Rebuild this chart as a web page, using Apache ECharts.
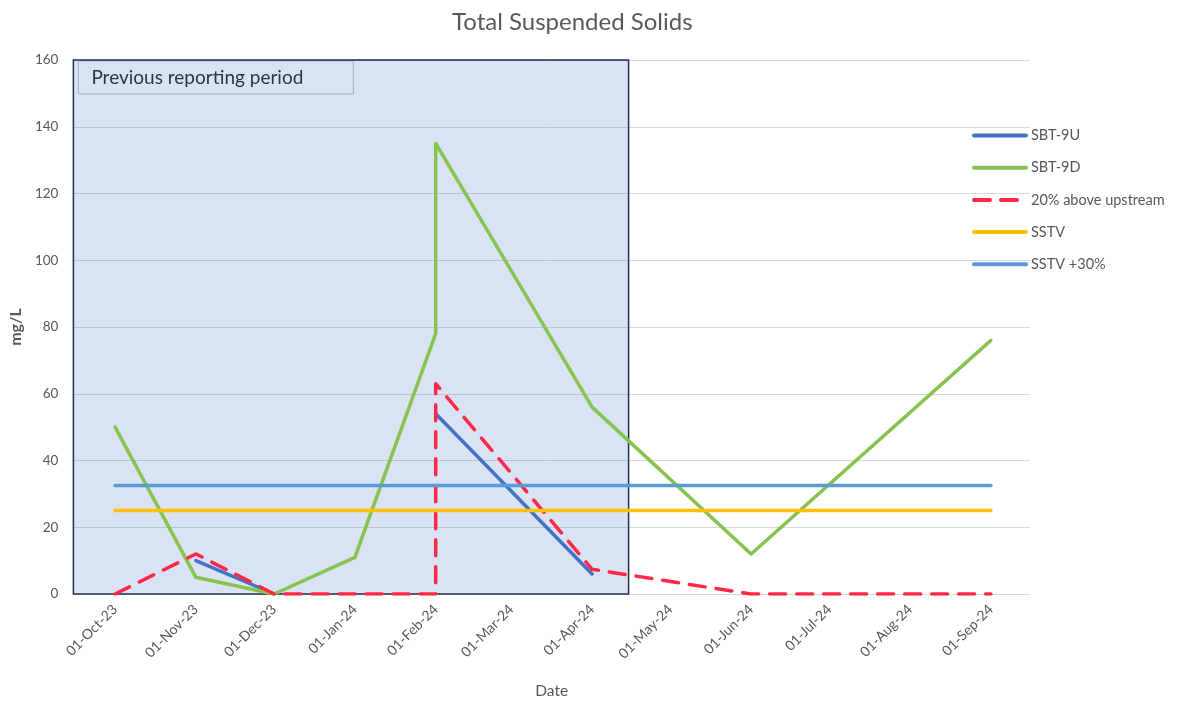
<!DOCTYPE html>
<html>
<head>
<meta charset="utf-8">
<script src="https://cdn.jsdelivr.net/npm/echarts@6/dist/echarts.min.js"></script>
<style>
  html, body { margin: 0; padding: 0; background: #fff; overflow: hidden; }
  #chart { width: 1181px; height: 704px; }
</style>
</head>
<body>
<div id="chart"></div>
<script>
// Sampling dates (monthly; two readings on 1 Feb 2024)
const sampleDates = ['2023-10-01', '2023-11-01', '2023-12-01', '2024-01-01', '2024-02-01',
                     '2024-02-01', '2024-04-01', '2024-06-01', '2024-09-01'];
// TSS results, mg/L (null = no upstream result)
const sbt9U = [null, 10, 0, null, null, 54, 6, null, null];
const sbt9D = [50, 5, 0, 11, 78, 135, 56, 12, 76];
const upstreamPlus20 = [0, 12, 0, 0, 0, 63, 7.4, 0, 0];
// Guideline values, mg/L
const guidelineDates = ['2023-10-01', '2024-09-01'];
const sstv = [25, 25];
const sstvPlus30 = [32.5, 32.5];
// Axis extent and the previous reporting period window
const axisStart = '2023-09-15';
const axisEnd = '2024-09-16';
const previousPeriod = ['2023-09-15', '2024-04-15'];
const periodLabel = 'Previous reporting period';
const yTicks = { min: 0, max: 160, interval: 20 };

const MONTHS = ['Jan','Feb','Mar','Apr','May','Jun','Jul','Aug','Sep','Oct','Nov','Dec'];
function toTime(s) {
  const p = s.split('-').map(Number);
  return new Date(p[0], p[1] - 1, p[2]).getTime();
}
function fmtDate(v) {
  const d = new Date(v);
  const dd = String(d.getDate()).padStart(2, '0');
  const yy = String(d.getFullYear() % 100).padStart(2, '0');
  return dd + '-' + MONTHS[d.getMonth()] + '-' + yy;
}
function pairs(dates, vals) {
  return dates.map((d, i) => [toTime(d), vals[i]]);
}

const FONT = 'Lato, "Open Sans", sans-serif';
const TEXT = '#595959';
const DAY = 86400000;

function lineSeries(name, data, color, extra) {
  return Object.assign({
    name: name,
    type: 'line',
    data: data,
    symbol: 'none',
    connectNulls: false,
    z: 3,
    lineStyle: { color: color, width: 3.5, cap: 'round', join: 'round' },
    itemStyle: { color: color },
    emphasis: { disabled: true },
    animation: false
  }, extra || {});
}

const chart = echarts.init(document.getElementById('chart'), null, { width: 1181, height: 704 });
chart.setOption({
  backgroundColor: '#fff',
  animation: false,
  title: {
    text: 'Total Suspended Solids',
    left: 447,
    top: 5,
    textStyle: { fontFamily: FONT, fontSize: 24, fontWeight: 'normal', color: TEXT }
  },
  grid: { left: 73, top: 60, width: 957, height: 542, containLabel: false },
  legend: {
    orient: 'vertical',
    left: 967,
    top: 123,
    itemWidth: 52,
    itemHeight: 14,
    itemGap: 17.2,
    itemStyle: { opacity: 0 },
    lineStyle: { width: 4 },
    textStyle: { fontFamily: FONT, fontSize: 14.5, color: TEXT },
    data: ['SBT-9U', 'SBT-9D', '20% above upstream', 'SSTV', 'SSTV +30%']
  },
  xAxis: {
    type: 'time',
    min: toTime(axisStart),
    max: toTime(axisEnd),
    splitNumber: 12,
    minInterval: 28 * DAY,
    maxInterval: 31 * DAY,
    name: 'Date',
    nameLocation: 'middle',
    nameGap: 89,
    nameTextStyle: { fontFamily: FONT, fontSize: 15.5, color: TEXT },
    axisLine: { show: false },
    axisTick: { show: false },
    splitLine: { show: false },
    axisLabel: {
      rotate: 45,
      margin: 13,
      fontFamily: FONT,
      fontSize: 14,
      color: TEXT,
      hideOverlap: false,
      formatter: function (v) { return fmtDate(v); }
    }
  },
  yAxis: {
    type: 'value',
    min: yTicks.min,
    max: yTicks.max,
    interval: yTicks.interval,
    name: 'mg/L',
    nameLocation: 'middle',
    nameGap: 46,
    nameRotate: 90,
    nameTextStyle: { fontFamily: FONT, fontSize: 16, fontWeight: 'bold', color: TEXT },
    axisLine: { show: false },
    axisTick: { show: false },
    splitLine: { lineStyle: { color: '#D9D9D9', width: 1 } },
    axisLabel: { margin: 15, fontFamily: FONT, fontSize: 13.5, color: TEXT }
  },
  series: [
    {
      name: 'period',
      type: 'line',
      data: [],
      z: 1,
      silent: true,
      markArea: {
        silent: true,
        itemStyle: {
          color: 'rgba(68,114,196,0.2)',
          borderColor: '#1F3050',
          borderWidth: 1.5
        },
        data: [[
          { xAxis: toTime(previousPeriod[0]), yAxis: yTicks.min },
          { xAxis: toTime(previousPeriod[1]), yAxis: yTicks.max }
        ]]
      }
    },
    lineSeries('SBT-9U', pairs(sampleDates, sbt9U), '#4472C4'),
    lineSeries('SBT-9D', pairs(sampleDates, sbt9D), '#86C34F'),
    lineSeries('20% above upstream', pairs(sampleDates, upstreamPlus20), '#FF2846', {
      lineStyle: { color: '#FF2846', width: 3.5, type: [16, 11], cap: 'round', join: 'round' }
    }),
    lineSeries('SSTV', pairs(guidelineDates, sstv), '#FFC000', { z: 4 }),
    lineSeries('SSTV +30%', pairs(guidelineDates, sstvPlus30), '#5B9BD5', { z: 4 })
  ]
});

// Caption box pinned to the top-left corner of the previous reporting period
const corner = chart.convertToPixel({ gridIndex: 0 }, [toTime(previousPeriod[0]), yTicks.max]);
chart.setOption({
  graphic: [{
    type: 'group',
    x: corner[0] + 5,
    y: corner[1] + 1,
    z: 100,
    children: [
      {
        type: 'rect',
        shape: { x: 0, y: 0, width: 275, height: 33 },
        style: { fill: '#fff', stroke: '#BFBFBF', lineWidth: 1 }
      },
      {
        type: 'text',
        x: 13,
        y: 17,
        style: {
          text: periodLabel,
          fontFamily: FONT,
          fontSize: 19,
          fill: '#262626',
          textVerticalAlign: 'middle',
          verticalAlign: 'middle'
        }
      }
    ]
  }]
});
</script>
</body>
</html>
